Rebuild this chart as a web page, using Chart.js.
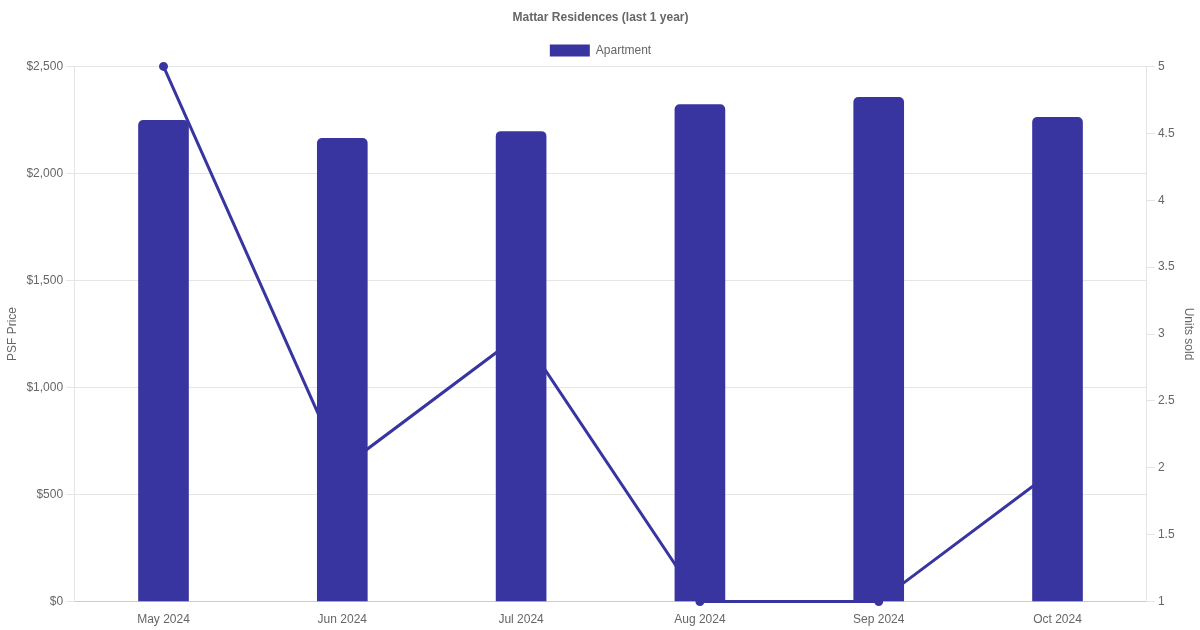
<!DOCTYPE html>
<html>
<head>
<meta charset="utf-8">
<script src="https://cdn.jsdelivr.net/npm/chart.js@4"></script>
<style>
  html, body { margin: 0; padding: 0; background: #fff; }
  #wrap { width: 1200px; height: 630px; }
</style>
</head>
<body>
<div id="wrap"><canvas id="chart"></canvas></div>
<script>
// Chart data
const months = ['May 2024', 'Jun 2024', 'Jul 2024', 'Aug 2024', 'Sep 2024', 'Oct 2024'];
const psfPrice = [2248, 2164, 2196, 2322, 2355, 2262];
const unitsSold = [5, 2, 3, 1, 1, 2];

const mainColor = '#3935a0';

Chart.defaults.font.family = '"Liberation Sans", Arial, sans-serif';
Chart.defaults.font.size = 12;
Chart.defaults.color = '#666';

new Chart(document.getElementById('chart'), {
    type: 'bar',
    data: {
        labels: months,
        datasets: [{
            label: 'Apartment',
            data: psfPrice,
            backgroundColor: mainColor,
            borderColor: mainColor,
            borderWidth: 0,
            borderRadius: { topLeft: 5, topRight: 5 },
            borderSkipped: 'bottom',
            barThickness: 50,
            yAxisID: 'y',
            order: 1
        }, {
            type: 'line',
            label: 'Units',
            data: unitsSold,
            borderColor: mainColor,
            backgroundColor: mainColor,
            borderWidth: 3,
            pointRadius: 3,
            tension: 0,
            fill: false,
            clip: false,
            yAxisID: 'y1',
            order: 2
        }]
    },
    options: {
        responsive: true,
        maintainAspectRatio: false,
        animation: false,
        layout: { padding: { left: 1 } },
        plugins: {
            title: {
                display: true,
                text: 'Mattar Residences (last 1 year)',
                font: { weight: 'bold', size: 12 },
                padding: { top: 10, bottom: 10 }
            },
            legend: {
                position: 'top',
                labels: {
                    filter: item => item.text === 'Apartment'
                }
            },
            tooltip: { enabled: false }
        },
        scales: {
            x: {
                grid: { display: false },
                border: { color: '#ccc' }
            },
            y: {
                position: 'left',
                min: 0,
                max: 2500,
                ticks: {
                    stepSize: 500,
                    callback: v => '$' + v.toLocaleString('en-US')
                },
                title: { display: true, text: 'PSF Price' },
                grid: { color: '#e5e5e5' },
                border: { color: '#e5e5e5' }
            },
            y1: {
                position: 'right',
                min: 1,
                max: 5,
                ticks: {
                    stepSize: 0.5,
                    callback: v => String(v)
                },
                title: { display: true, text: 'Units sold' },
                grid: { drawOnChartArea: false, color: '#e5e5e5' },
                border: { color: '#e5e5e5' }
            }
        }
    }
});
</script>
</body>
</html>
